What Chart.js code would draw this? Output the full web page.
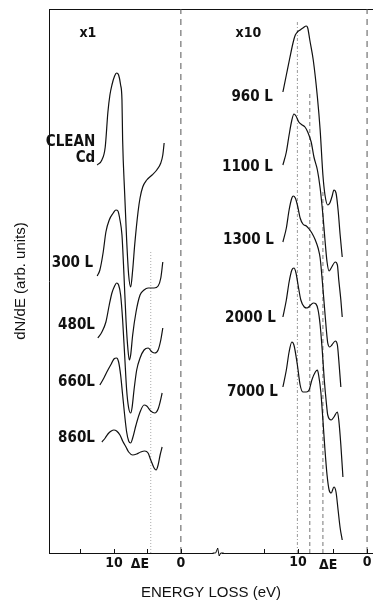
<!DOCTYPE html>
<html>
<head>
<meta charset="utf-8">
<script src="https://cdn.jsdelivr.net/npm/chart.js@4.4.1/dist/chart.umd.min.js"></script>
<style>
  html, body { margin: 0; padding: 0; background: #fff; }
  #wrap { width: 373px; height: 603px; }
</style>
</head>
<body>
<div id="wrap"><canvas id="c" width="373" height="603"></canvas></div>
<script>
// energy loss (eV) , dN/dE (arb. units, curves stacked)
// left panel, x1
const cleanCd = [[12.5,388],[11.8,393],[11.3,406],[10.9,441],[10.6,458],[10.3,468],[9.9,477],[9.6,480],[9.3,478],[9.0,468],[8.8,453],[8.7,413],[8.4,360],[8.1,313],[7.8,278],[7.5,266],[7.2,283],[6.9,308],[6.4,341],[6.1,355],[5.7,366],[5.1,373],[4.3,378],[3.6,383],[3.0,390],[2.7,398],[2.5,410]];
const l300 = [[12.5,277],[12.1,283],[11.6,301],[11.2,321],[10.7,333],[10.1,340],[9.7,343],[9.4,342],[9.1,333],[8.8,318],[8.5,278],[8.2,233],[7.9,203],[7.7,193],[7.5,198],[7.2,218],[6.7,241],[6.1,258],[5.5,263],[4.9,265],[4.0,265],[3.4,267],[3.0,275],[2.7,291]];
const l480 = [[12.4,215],[11.8,221],[11.2,231],[10.7,248],[10.3,260],[9.9,267],[9.6,270],[9.3,268],[9.0,258],[8.7,233],[8.4,198],[8.1,163],[7.8,145],[7.5,140],[7.3,145],[7.0,163],[6.6,183],[6.1,195],[5.5,203],[4.9,205],[4.3,201],[3.9,200],[3.4,203],[3.0,213],[2.7,225]];
const l660 = [[12.1,168],[11.5,175],[10.9,183],[10.4,189],[10.0,194],[9.6,195],[9.3,191],[9.0,178],[8.7,158],[8.4,138],[8.1,121],[7.8,112],[7.5,110],[7.2,115],[6.7,128],[6.1,141],[5.5,148],[5.1,147],[4.5,142],[3.9,140],[3.4,144],[3.1,151],[2.8,160]];
const l860 = [[11.8,111],[11.3,115],[10.9,119],[10.4,122],[10.0,123],[9.6,122],[9.1,118],[8.7,112],[8.2,106],[7.8,101],[7.2,98],[6.6,99],[6.0,101],[5.4,102],[4.9,100],[4.5,93],[4.0,85],[3.7,83],[3.4,88],[3.1,98],[2.8,106]];

// right panel, x10
const l960 = [[12.2,461],[11.7,478],[11.2,495],[10.7,511],[10.4,518],[10.1,521],[9.7,523],[9.3,525],[8.8,527],[8.6,525],[8.3,513],[7.8,493],[7.2,456],[6.8,423],[6.4,378],[6.1,358],[5.7,348],[5.4,350],[5.1,356],[4.8,363],[4.5,360],[4.2,343],[3.9,318],[3.6,296]];
const l1100 = [[12.2,388],[11.7,401],[11.3,418],[10.9,433],[10.6,439],[10.3,437],[9.9,431],[9.4,428],[9.0,426],[8.6,421],[8.1,411],[7.7,396],[7.2,383],[6.8,365],[6.4,338],[6.1,313],[5.8,291],[5.5,282],[5.2,285],[4.6,291],[4.3,288],[4.1,273],[3.8,253],[3.6,236]];
const l1300 = [[12.2,311],[11.7,325],[11.3,343],[10.9,355],[10.7,357],[10.4,355],[10.1,348],[9.7,335],[9.3,329],[8.8,327],[8.4,324],[8.0,320],[7.5,313],[7.1,305],[6.8,295],[6.5,273],[6.2,248],[5.9,223],[5.7,210],[5.4,206],[5.1,208],[4.6,212],[4.3,208],[4.1,193],[3.8,166]];
const l2000 = [[12.2,236],[11.7,253],[11.3,271],[10.9,283],[10.6,285],[10.3,280],[10.0,268],[9.6,253],[9.1,246],[8.7,245],[8.3,247],[7.8,250],[7.4,249],[7.1,243],[6.8,228],[6.5,203],[6.2,173],[5.9,150],[5.7,138],[5.2,133],[4.8,136],[4.3,141],[4.1,133],[3.8,108],[3.5,76]];
const l7000 = [[12.2,166],[11.7,183],[11.3,201],[10.9,211],[10.6,208],[10.1,188],[9.7,168],[9.3,161],[8.8,161],[8.4,163],[8.0,173],[7.5,181],[7.2,183],[7.0,177],[6.7,161],[6.4,133],[6.1,103],[5.8,78],[5.5,63],[5.2,60],[4.8,66],[4.5,61],[4.2,43],[3.9,25],[3.6,13]];

// axis ticks (eV)
const tickMarks = [15, 10, 5, 0];
const tickLabels = [10, 0];
const deltaE = { left: 6.1, right: 5.65 };

// vertical guide lines: energy and top value
const leftGuides = [[0, 544], [4.5, 303]];
const rightGuides = [[0, 544], [10.1, 533], [8.3, 460], [6.4, 363]];

// curve names + label offsets (px from first point)
const curves = [
  { name: ['CLEAN', 'Cd'], pts: cleanCd, axis: 'x', dx: 0, dy: [-23, -7] },
  { name: ['300 L'], pts: l300, axis: 'x', dx: -2, dy: [-13] },
  { name: ['480L'], pts: l480, axis: 'x', dx: -1, dy: [-13] },
  { name: ['660L'], pts: l660, axis: 'x', dx: -3, dy: [-3] },
  { name: ['860L'], pts: l860, axis: 'x', dx: -5, dy: [-4] },
  { name: ['960 L'], pts: l960, axis: 'x2', dx: -8, dy: [5] },
  { name: ['1100 L'], pts: l1100, axis: 'x2', dx: -8, dy: [2] },
  { name: ['1300 L'], pts: l1300, axis: 'x2', dx: -7, dy: [-2] },
  { name: ['2000 L'], pts: l2000, axis: 'x2', dx: -5, dy: [1] },
  { name: ['7000 L'], pts: l7000, axis: 'x2', dx: -3, dy: [5] }
];
const panelTags = [['x1', 'x', 13.9, 520], ['x10', 'x2', 17.2, 520]];

const boldFont = '"Liberation Sans Narrow", "DejaVu Sans Condensed", "Liberation Sans", sans-serif';

const datasets = [];
curves.forEach(c => {
  datasets.push({
    data: c.pts.map(p => ({ x: p[0], y: p[1] })),
    xAxisID: c.axis,
    borderColor: '#111',
    borderWidth: 1.2,
    pointRadius: 0,
    cubicInterpolationMode: 'monotone',
    order: 0,
    tag: c.name, tagDx: c.dx, tagDy: c.dy
  });
});
function guide(g, axis, dash, color) {
  datasets.push({
    data: [{ x: g[0], y: 0 }, { x: g[0], y: g[1] }],
    xAxisID: axis,
    borderColor: color,
    borderWidth: 1,
    borderDash: dash,
    pointRadius: 0,
    order: 1
  });
}
guide(leftGuides[0], 'x', [6, 5], '#555');
guide(leftGuides[1], 'x', [1, 2], '#aaa');
guide(rightGuides[0], 'x2', [6, 5], '#555');
guide(rightGuides[1], 'x2', [3, 2, 1, 2], '#999');
guide(rightGuides[2], 'x2', [4, 3], '#777');
guide(rightGuides[3], 'x2', [4, 3], '#777');

const overlay = {
  id: 'overlay',
  afterDatasetsDraw(chart) {
    const ctx = chart.ctx;
    const sx = chart.scales.x, sx2 = chart.scales.x2, sy = chart.scales.y;
    const base = chart.chartArea.bottom;
    ctx.save();
    ctx.fillStyle = '#111';
    ctx.strokeStyle = '#111';
    // curve labels
    ctx.textAlign = 'right';
    ctx.textBaseline = 'middle';
    ctx.font = 'bold 15px ' + boldFont;
    chart.data.datasets.forEach((ds, i) => {
      if (!ds.tag) return;
      const p = chart.getDatasetMeta(i).data[0];
      ds.tag.forEach((t, k) => ctx.fillText(t, p.x - 2 + ds.tagDx, p.y + ds.tagDy[k]));
    });
    // panel magnification
    ctx.textAlign = 'center';
    ctx.font = 'bold 14px ' + boldFont;
    panelTags.forEach(t => {
      const s = chart.scales[t[1]];
      ctx.fillText(t[0], s.getPixelForValue(t[2]), sy.getPixelForValue(t[3]));
    });
    // tick marks (inside) for both panels
    ctx.lineWidth = 1;
    ctx.beginPath();
    tickMarks.forEach(v => {
      [sx, sx2].forEach(s => {
        const px = Math.round(s.getPixelForValue(v)) + 0.5;
        ctx.moveTo(px, base);
        ctx.lineTo(px, base - 4);
      });
    });
    ctx.stroke();
    // right panel tick labels
    ctx.font = 'bold 14px ' + boldFont;
    ctx.textBaseline = 'middle';
    tickLabels.forEach(v => ctx.fillText(String(v), sx2.getPixelForValue(v), base + 9));
    // delta E labels
    ctx.fillText('ΔE', sx.getPixelForValue(deltaE.left), base + 11);
    ctx.fillText('ΔE', sx2.getPixelForValue(deltaE.right), base + 12);
    // axis break
    const bx = sx.getPixelForValue(-5.5);
    ctx.fillStyle = '#fff';
    ctx.fillRect(bx - 4, base - 2, 8, 4);
    ctx.beginPath();
    ctx.moveTo(bx - 5, base);
    ctx.lineTo(bx - 2, base);
    ctx.lineTo(bx, base - 5);
    ctx.lineTo(bx + 1.5, base + 3);
    ctx.lineTo(bx + 3, base);
    ctx.lineTo(bx + 6, base);
    ctx.stroke();
    ctx.restore();
  }
};

new Chart(document.getElementById('c'), {
  type: 'line',
  data: { datasets },
  options: {
    responsive: false,
    animation: false,
    devicePixelRatio: 1,
    layout: { padding: { top: 9, right: 0, bottom: 0, left: 0 } },
    plugins: { legend: { display: false }, tooltip: { enabled: false } },
    scales: {
      x: {
        type: 'linear', position: 'bottom', reverse: true, min: -28.7, max: 19.7,
        afterBuildTicks: s => { s.ticks = tickLabels.map(v => ({ value: v })); },
        afterFit: s => { s.height = 50; },
        grid: { display: false, drawTicks: false },
        border: { display: true, color: '#111', width: 1 },
        ticks: {
          color: '#111', padding: 2, maxRotation: 0, autoSkip: false,
          font: { family: boldFont, size: 14, weight: 'bold' },
          callback: v => String(v)
        },
        title: {
          display: true, text: 'ENERGY LOSS (eV)', color: '#111',
          font: { family: '"Liberation Sans", Arial, sans-serif', size: 15 },
          padding: { top: 0, bottom: 1 }
        }
      },
      x2: {
        type: 'linear', position: 'top', reverse: true, min: -0.86, max: 46.1,
        afterFit: s => { s.height = 0; },
        grid: { display: false },
        ticks: { display: false },
        border: { display: true, color: '#111', width: 1 }
      },
      y: {
        type: 'linear', min: 0, max: 544,
        afterFit: s => { s.width = 49; },
        grid: { display: false },
        ticks: { display: false },
        border: { display: true, color: '#111', width: 1 },
        title: {
          display: true, text: 'dN/dE (arb. units)', color: '#111',
          font: { family: '"Liberation Sans", Arial, sans-serif', size: 15 },
          padding: { top: 12, bottom: 0 }
        }
      }
    }
  },
  plugins: [overlay]
});
</script>
</body>
</html>
